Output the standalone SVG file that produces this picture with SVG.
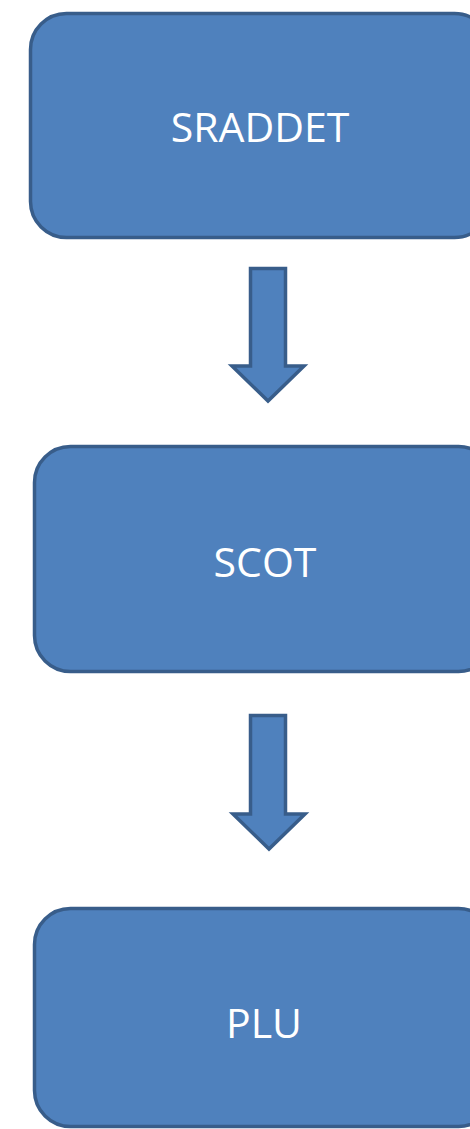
<svg xmlns="http://www.w3.org/2000/svg" width="470" height="1129" viewBox="0 0 470 1129">
<style>
.box{fill:#4f81bd;stroke:#385d8a;stroke-width:3.5}
.arr{fill:#4f81bd;stroke:#385d8a;stroke-width:3.5;stroke-linejoin:miter}
.lbl{font-family:"Open Sans","Noto Sans",sans-serif;font-size:41px;fill:#ffffff;text-anchor:middle}
</style>
<rect width="470" height="1129" fill="#ffffff"/>
<g id="node-sraddet">
<rect class="box" x="30.5" y="13.5" width="460" height="224" rx="36"/>
<text class="lbl" x="260" y="142">SRADDET</text>
</g>
<g id="node-scot">
<rect class="box" x="34.5" y="446.5" width="460" height="225" rx="36"/>
<text class="lbl" x="265" y="577">SCOT</text>
</g>
<g id="node-plu">
<rect class="box" x="34.5" y="908.5" width="460" height="218" rx="36"/>
<text class="lbl" x="264" y="1038">PLU</text>
</g>
<g id="connectors">
<path class="arr" d="M250.5,268.5 H285.5 V366 H304 L268,401 L232,366 H250.5 Z"/>
<path class="arr" d="M250.5,715.5 H285.5 V814 H305 L269,849 L233,814 H250.5 Z"/>
</g>
</svg>
